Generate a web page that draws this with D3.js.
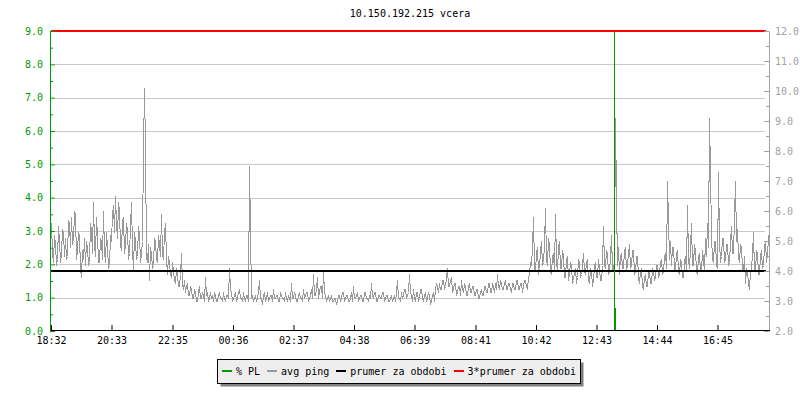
<!DOCTYPE html>
<html><head><meta charset="utf-8">
<script src="https://cdn.jsdelivr.net/npm/d3@7"></script>
<style>
body{margin:0;background:#fff}
svg text{font-family:"DejaVu Sans Mono",monospace;font-size:10px}
</style></head><body>
<svg id="chart" width="800" height="400"></svg>
<script>
// ---------------- data ----------------
const chartTitle = "10.150.192.215 vcera";
const startTime = "18:32";
const pingStepMinutes = 2;
// avg ping (right axis), one sample every 2 minutes from 18:32
const avgPing = [
 5.6,4.6, 4.3,5.2, 4.9,4.2, 4.4,5.5, 5.0,4.3, 4.6,5.4, 5.3,4.5, 5.1,4.4, 4.5,5.7, 5.6,4.8,
 5.8,4.9, 5.0,6.0, 5.9,4.4, 4.7,5.3, 5.2,4.1, 3.8,4.7, 4.4,5.1, 4.2,5.0, 4.8,4.2, 4.3,5.6,
 5.4,4.6, 6.3,4.9, 4.5,5.8, 5.2,4.3, 4.3,5.1, 5.0,4.4, 6.0,4.7, 4.3,5.3, 4.8,4.1, 4.2,5.2,
 5.0,5.9, 6.2,5.3, 6.5,5.6, 5.1,6.3, 6.0,4.9, 4.7,5.7, 5.8,4.6, 4.9,5.6, 5.4,4.4, 4.6,5.5,
 6.3,4.8, 4.0,5.3, 5.0,4.4, 4.5,5.5, 5.2,4.3, 4.6,5.0, 8.1,10.1, 8.1,4.5, 4.3,4.9, 3.7,4.8,
 4.6,4.1, 4.2,5.1, 5.0,4.4, 4.3,5.2, 4.9,4.5, 5.9,4.6, 4.4,5.3, 5.6,4.4, 3.9,4.5, 4.3,3.9,
 3.8,4.3, 4.0,3.7, 3.6,4.1, 3.9,3.5, 3.5,3.9, 4.6,3.6, 3.4,3.7, 3.3,3.5, 3.6,3.2, 3.2,3.5,
 3.4,3.1, 3.1,3.4, 3.3,3.0, 3.0,3.3, 3.5,3.1, 3.1,3.3, 3.2,3.0, 3.8,3.2, 3.3,3.0, 3.1,3.3,
 3.1,3.2, 3.0,3.3, 3.2,3.0, 3.0,3.2, 3.3,3.1, 3.1,3.0, 3.3,3.1, 3.0,3.2, 3.2,3.1, 4.1,3.4,
 3.3,3.0, 3.1,3.2, 3.3,3.0, 3.1,3.3, 3.4,3.1, 3.1,3.0, 3.3,3.1, 3.0,3.2, 3.2,3.0, 7.5,5.4,
 3.1,3.2, 3.0,3.1, 3.2,3.0, 3.1,3.3, 3.7,3.1, 3.1,2.9, 3.2,3.3, 3.0,3.1, 3.3,3.0, 3.1,3.2,
 3.2,3.0, 3.4,3.1, 3.1,3.2, 3.2,3.0, 3.0,3.3, 3.2,3.1, 3.1,3.0, 3.3,3.1, 3.0,3.2, 3.1,3.0,
 3.6,3.1, 3.1,3.3, 3.2,3.0, 3.0,3.2, 3.3,3.1, 3.1,3.0, 3.4,3.1, 3.2,3.3, 3.3,3.0, 3.1,3.2,
 3.4,3.1, 3.9,3.2, 3.2,3.4, 3.8,3.1, 3.3,3.5, 3.5,3.1, 4.0,3.3, 3.2,3.0, 3.1,3.2, 3.0,3.1,
 3.2,3.0, 3.0,3.1, 3.1,2.9, 3.0,3.2, 3.2,3.0, 3.1,3.3, 3.3,3.0, 3.1,3.2, 3.2,3.0, 3.0,3.1,
 3.3,3.0, 3.5,3.1, 3.1,3.2, 3.3,3.0, 3.1,3.2, 3.2,3.0, 3.0,3.3, 3.3,3.1, 3.1,3.0, 3.2,3.1,
 3.6,3.2, 3.1,3.3, 3.3,3.0, 3.0,3.2, 3.2,3.1, 3.1,3.3, 3.3,3.0, 3.1,3.2, 3.2,3.0, 3.0,3.1,
 3.2,3.0, 3.1,3.2, 3.0,3.3, 3.7,3.1, 3.1,3.0, 3.3,3.1, 3.2,3.4, 3.4,3.1, 3.2,3.3,
 3.9,3.3, 3.2,3.0, 3.4,3.1, 3.0,3.3, 3.3,3.0, 3.1,3.4, 3.4,3.1, 3.0,3.2, 3.3,3.0, 3.1,3.3, 3.2,2.9,
 3.0,3.2, 3.3,3.0, 3.4,3.6, 3.5,3.3, 3.6,3.4, 3.4,3.7, 3.7,3.4, 3.5,3.8, 4.1,3.5, 3.5,3.7,
 3.8,3.3, 3.4,3.6, 3.6,3.2, 3.3,3.5, 3.5,3.2, 3.7,3.4, 3.3,3.6, 3.5,3.2, 3.2,3.5, 3.6,3.3,
 3.3,3.5, 3.5,3.2, 3.2,3.4, 3.4,3.1, 3.1,3.3, 3.4,3.2, 3.2,3.5, 3.5,3.3, 3.3,3.6, 3.6,3.3,
 3.3,3.6, 3.5,3.3, 3.6,3.4, 3.9,3.5, 3.4,3.7, 3.6,3.4, 3.4,3.6, 3.7,3.4, 3.4,3.6, 3.6,3.4,
 3.3,3.6, 3.6,3.4, 3.4,3.7, 3.7,3.4, 3.4,3.6, 3.6,3.3, 3.5,3.7, 3.7,3.5, 3.4,3.8, 3.9,4.3,
 4.2,4.8, 5.8,4.1, 4.0,4.6, 4.8,3.9, 4.1,4.7, 5.0,4.2, 4.3,4.9, 6.1,4.4, 4.2,5.1, 4.9,4.0,
 3.9,4.5, 4.6,4.0, 5.9,4.3, 4.0,4.8, 5.0,4.1, 4.1,4.7, 4.5,3.8, 3.8,4.4, 4.5,3.7, 3.9,4.3,
 4.2,3.6, 3.7,4.0, 4.1,3.6, 3.8,4.4, 4.3,3.8, 3.9,4.2, 4.6,4.0, 3.9,4.3,
 4.4,3.7, 3.6,4.1, 4.0,3.5, 3.7,4.2, 4.3,3.8, 3.8,4.4, 4.1,3.7, 3.7,4.2,
 5.5,4.2, 4.1,4.7, 4.6,3.9, 4.0,4.5, 5.2,4.1, 4.0,4.4, 9.1,6.4, 4.2,4.8, 3.9,4.5,
 4.6,4.1, 4.1,4.7, 4.8,4.0, 4.2,4.6, 4.9,4.1, 4.2,4.7, 4.7,3.9, 4.0,4.5, 4.5,3.8,
 3.6,4.0, 4.1,3.5, 3.4,3.8, 3.9,3.5, 3.5,4.0, 4.0,3.6, 3.6,4.1, 4.0,3.7, 3.8,4.2, 4.2,3.8, 3.9,4.3, 4.4,3.9, 4.0,4.5,
 4.6,4.1, 7.0,5.7, 4.4,5.0, 4.2,4.8, 4.8,4.1, 4.0,4.6, 4.7,4.0, 3.9,4.4, 4.3,3.8, 3.8,4.3,
 4.5,4.0, 6.2,4.4, 4.1,4.8, 5.6,4.2, 4.2,4.9, 4.7,4.0, 3.9,4.5, 4.6,4.0, 4.0,4.7, 4.4,4.0, 5.1,4.5,
 5.6,4.8, 9.1,7.3, 5.2,4.4, 4.3,5.0, 5.0,4.2, 4.1,7.3, 5.0,4.3, 4.5,5.1, 5.1,4.3, 4.4,4.9, 4.9,4.2, 4.3,5.0,
 5.5,4.6, 4.6,5.8, 7.0,5.0, 5.4,4.5, 4.3,4.9, 4.8,4.1, 4.0,4.5, 3.6,4.1, 4.0,3.6, 3.4,4.0,
 4.1,4.6, 5.3,4.0, 4.0,4.7, 4.6,3.9, 3.9,4.5, 4.7,4.1, 4.2,4.8, 5.0,4.3, 4.6,5.1, 5.3,4.9
];
// % packet loss (left axis): minutes after 18:32 and values
const plMinutes = [1126, 1128];
const plValues = [100, 0.7];
const prumer = 4.0;        // right axis
const prumer3 = 12.0;      // right axis
const timeTickLabels = ["18:32","20:33","22:35","00:36","02:37","04:38","06:39","08:41","10:42","12:43","14:44","16:45"];
const leftTicks = [0,1,2,3,4,5,6,7,8,9];
const leftMinorTicks = [0.5,1.5,2.5,3.5,4.5,5.5,6.5,7.5,8.5];
const rightTicks = [2,3,4,5,6,7,8,9,10,11,12];
const rightMinorTicks = [2.5,3.5,4.5,5.5,6.5,7.5,8.5,9.5,10.5,11.5];
const legendLabels = ["% PL","avg ping","prumer za obdobi","3*prumer za obdobi"];

// ---------------- styles ----------------
const C = {green:"#009a00", gray:"#999999", grid:"#c8c8c8", black:"#000", red:"#ff0000", axisR:"#a0a0a0"};
const FONT = '"DejaVu Sans Mono",monospace';

const svg = d3.select("#chart");
const toMin = s => { const [h,m] = s.split(":").map(Number); return h*60+m; };
const start = toMin(startTime);
const tickMinutes = timeTickLabels.map(s => (toMin(s) - start + 1440) % 1440);

const x = d3.scaleLinear().domain([0,1440]).range([51,771]);
const yL = d3.scaleLinear().domain([0,9]).range([331,31]);
const yR = d3.scaleLinear().domain([2,12]).range([331,31]);

svg.append("defs").append("clipPath").attr("id","clip")
  .append("rect").attr("x",51).attr("y",30).attr("width",719).attr("height",301);

// grid
svg.append("g").selectAll("line").data(leftTicks.filter(d=>d>0 && d<9)).join("line")
  .attr("x1",55).attr("x2",765).attr("y1",d=>Math.round(yL(d))+0.5).attr("y2",d=>Math.round(yL(d))+0.5)
  .attr("stroke",C.grid).attr("stroke-width",1);

const plot = svg.append("g").attr("clip-path","url(#clip)");

// avg ping line
plot.append("path").datum(avgPing)
  .attr("d", d3.line().x((d,i)=>x(i*pingStepMinutes)+0.5).y(d=>Math.round(yR(d))+0.5))
  .attr("fill","none").attr("stroke",C.gray).attr("stroke-width",1)
  .attr("shape-rendering","crispEdges");

// hrules
plot.append("rect").attr("x",51).attr("width",715).attr("y",Math.round(yR(prumer))-1).attr("height",2)
  .attr("fill",C.black);
svg.append("rect").attr("x",51).attr("width",715).attr("y",Math.round(yR(prumer3))-1).attr("height",2)
  .attr("fill",C.red);

// PL
plot.append("g").selectAll("line").data(plMinutes).join("line")
  .attr("x1",d=>Math.round(x(d))+0.5).attr("x2",d=>Math.round(x(d))+0.5)
  .attr("y1",yL(0)).attr("y2",(d,i)=>Math.max(30,yL(plValues[i])))
  .attr("stroke",C.green).attr("stroke-width",1).attr("shape-rendering","crispEdges");

// left axis
const gL = svg.append("g").attr("transform","translate(50,0)")
  .call(d3.axisLeft(yL).tickValues(leftTicks).tickSizeInner(-5).tickSizeOuter(0).tickPadding(7).tickFormat(d3.format(".1f")));
const gLm = svg.append("g").attr("transform","translate(50,0)")
  .call(d3.axisLeft(yL).tickValues(leftMinorTicks).tickSizeInner(-3).tickSizeOuter(0).tickFormat(""));
gLm.select(".domain").remove();
gL.selectAll("path,line").attr("stroke",C.green);
gLm.selectAll("line").attr("stroke",C.green);
gL.selectAll("text").attr("fill",C.green).style("font-size","10px").style("font-family",FONT);

// right axis
const gR = svg.append("g").attr("transform","translate(769,0)")
  .call(d3.axisRight(yR).tickValues(rightTicks).tickSizeInner(-5).tickSizeOuter(0).tickPadding(6).tickFormat(d3.format(".1f")));
const gRm = svg.append("g").attr("transform","translate(769,0)")
  .call(d3.axisRight(yR).tickValues(rightMinorTicks).tickSizeInner(-3).tickSizeOuter(0).tickFormat(""));
gRm.select(".domain").remove();
gR.selectAll("path,line").attr("stroke",C.axisR);
gRm.selectAll("line").attr("stroke",C.axisR);
gR.selectAll("text").attr("fill",C.axisR).style("font-size","10px").style("font-family",FONT);

// bottom axis
const gB = svg.append("g").attr("transform","translate(0,330)")
  .call(d3.axisBottom(x).tickValues(tickMinutes).tickSizeInner(-5).tickSizeOuter(0).tickPadding(7)
    .tickFormat((d,i)=>timeTickLabels[i]));
gB.select(".domain").attr("d","M51,0.5H770");
gB.selectAll("path,line").attr("stroke",C.black);
gB.selectAll("text").attr("fill",C.black).style("font-size","10px").style("font-family",FONT);

// title
svg.append("text").attr("x",410).attr("y",17).attr("text-anchor","middle").attr("fill","#000").text(chartTitle);

// legend
const legendColors = [C.green, C.gray, C.black, C.red];
const lg = svg.append("g");
lg.append("rect").attr("x",220.5).attr("y",362.5).attr("width",363).attr("height",24).attr("fill","#808080");
lg.append("rect").attr("x",217.5).attr("y",359.5).attr("width",363).attr("height",24).attr("fill","#eeeeee").attr("stroke","#000");
let lx = 222;
legendLabels.forEach((lab,i)=>{
  lg.append("line").attr("x1",lx).attr("x2",lx+10).attr("y1",371).attr("y2",371)
    .attr("stroke",legendColors[i]).attr("stroke-width",2).attr("shape-rendering","crispEdges");
  const t = lg.append("text").attr("x",lx+14).attr("y",374.5).attr("fill","#000").text(lab);
  lx = lx + 14 + t.node().getComputedTextLength() + 7;
});
</script>
</body></html>
